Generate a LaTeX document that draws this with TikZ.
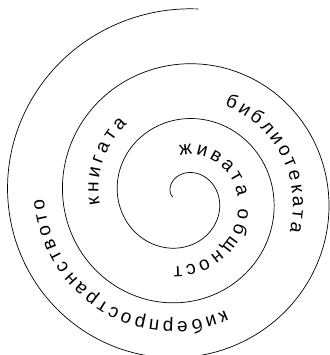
\documentclass[tikz,border=0pt]{standalone}
\usepackage{fontspec}
\setmainfont{Liberation Sans}
\usetikzlibrary{decorations.text}

\newcommand{\lblfont}{\fontsize{19}{19}\selectfont}
\tikzset{
  spiraltext/.style={decorate, font=\lblfont, decoration={text along path,
      text={|\lblfont|#1}, text align={fit to path}}}
}

\begin{document}
\begin{tikzpicture}[x=1pt, y=1pt, font=\lblfont,
    declare function={spr(\t)=23+\t/360*55; txr(\t)=42+\t/360*55;}]
        \useasboundingbox (-182,-158) rectangle (147,197);
        \draw[line width=0.7pt] plot[domain=-90:1085, samples=400, smooth, variable=\t] ({spr(\t)*sin(\t)}, {spr(\t)*cos(\t)});
        \path[spiraltext={живата общност}] plot[domain=-3:187, samples=39, variable=\t] ({txr(\t)*sin(\t)}, {txr(\t)*cos(\t)});
        \path[spiraltext={книгата}] plot[domain=265:323, samples=13, variable=\t] ({txr(\t)*sin(\t)}, {txr(\t)*cos(\t)});
        \path[spiraltext={библиотеката}] plot[domain=385:468, samples=18, variable=\t] ({txr(\t)*sin(\t)}, {txr(\t)*cos(\t)});
        \path[spiraltext={киберпространството}] plot[domain=519:629, samples=23, variable=\t] ({txr(\t)*sin(\t)}, {txr(\t)*cos(\t)});
    \end{tikzpicture}
\end{document}
